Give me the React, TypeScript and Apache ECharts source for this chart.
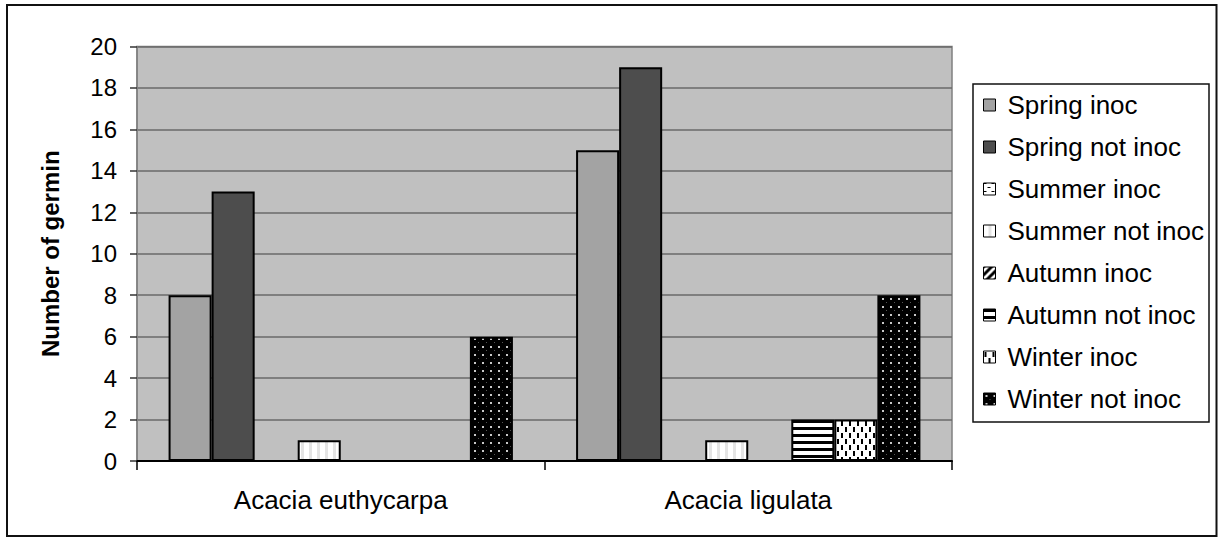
import React, { useEffect, useRef } from "react";
import * as echarts from "echarts";

// Germination counts per species and treatment
const categories = ["Acacia euthycarpa", "Acacia ligulata"];
const seriesNames = [
  "Spring inoc",
  "Spring not inoc",
  "Summer inoc",
  "Summer not inoc",
  "Autumn inoc",
  "Autumn not inoc",
  "Winter inoc",
  "Winter not inoc",
];
const springInoc = [8, 15];
const springNotInoc = [13, 19];
const summerInoc = [0, 0];
const summerNotInoc = [1, 1];
const autumnInoc = [0, 0];
const autumnNotInoc = [0, 2];
const winterInoc = [0, 2];
const winterNotInoc = [6, 8];
const yTicks = { min: 0, max: 20, interval: 2 };
const yTitle = "Number of germin";

const FONT = "'Liberation Sans', Arial, sans-serif";

// Small repeating canvas tiles used as bar fills
function tile(w: number, h: number, draw: (c: CanvasRenderingContext2D) => void) {
  const cv = document.createElement("canvas");
  cv.width = w;
  cv.height = h;
  const ctx = cv.getContext("2d")!;
  draw(ctx);
  return { image: cv, repeat: "repeat" as const };
}

function makeFills() {
  const summerInocFill = tile(8, 8, (c) => {
    c.fillStyle = "#fff";
    c.fillRect(0, 0, 8, 8);
    c.fillStyle = "#000";
    c.fillRect(0, 0, 3, 1);
    c.fillRect(4, 4, 3, 1);
  });
  const summerNotInocFill = tile(8, 8, (c) => {
    c.fillStyle = "#fff";
    c.fillRect(0, 0, 8, 8);
    c.fillStyle = "#e4e4e4";
    c.fillRect(5, 0, 3, 8);
  });
  const autumnInocFill = tile(8, 8, (c) => {
    c.fillStyle = "#fff";
    c.fillRect(0, 0, 8, 8);
    c.strokeStyle = "#000";
    c.lineWidth = 3;
    c.beginPath();
    c.moveTo(-2, 10);
    c.lineTo(10, -2);
    c.moveTo(-6, 6);
    c.lineTo(6, -6);
    c.moveTo(2, 14);
    c.lineTo(14, 2);
    c.stroke();
  });
  const autumnNotInocFill = tile(8, 7, (c) => {
    c.fillStyle = "#fff";
    c.fillRect(0, 0, 8, 7);
    c.fillStyle = "#000";
    c.fillRect(0, 0, 8, 3);
  });
  const winterInocFill = tile(8, 12, (c) => {
    c.fillStyle = "#fff";
    c.fillRect(0, 0, 8, 12);
    c.fillStyle = "#000";
    c.fillRect(1, 1, 2, 5);
    c.fillRect(5, 7, 2, 5);
  });
  const winterNotInocFill = tile(8, 8, (c) => {
    c.fillStyle = "#000";
    c.fillRect(0, 0, 8, 8);
    c.fillStyle = "#c8c8c8";
    c.fillRect(2, 2, 2, 2);
    c.fillStyle = "#555";
    c.fillRect(6, 6, 1, 1);
  });
  return [
    "#a3a3a3",
    "#4d4d4d",
    summerInocFill,
    summerNotInocFill,
    autumnInocFill,
    autumnNotInocFill,
    winterInocFill,
    winterNotInocFill,
  ];
}

export default function App() {
  const ref = useRef<HTMLDivElement>(null);

  useEffect(() => {
    if (!ref.current) return;
    const chart = echarts.init(ref.current, undefined, { renderer: "svg" });
    const fills = makeFills();
    const values = [
      springInoc,
      springNotInoc,
      summerInoc,
      summerNotInoc,
      autumnInoc,
      autumnNotInoc,
      winterInoc,
      winterNotInoc,
    ];

    chart.setOption({
      animation: false,
      backgroundColor: "#fff",
      textStyle: { fontFamily: FONT },
      grid: {
        left: 137,
        top: 46.5,
        right: 269,
        bottom: 78,
        show: true,
        backgroundColor: "#c0c0c0",
        borderColor: "#808080",
        borderWidth: 1.5,
      },
      graphic: [
        {
          type: "rect",
          shape: { x: 7, y: 5, width: 1209.5, height: 531 },
          style: { fill: "none", stroke: "#111", lineWidth: 2 },
          silent: true,
        },
        {
          type: "rect",
          shape: { x: 973, y: 84, width: 236, height: 338 },
          style: { fill: "#fff", stroke: "#111", lineWidth: 1.5 },
          silent: true,
          z: -1,
        },
      ],
      legend: {
        orient: "vertical",
        left: 983,
        top: 92,
        icon: "rect",
        itemWidth: 12,
        itemHeight: 12,
        itemGap: 16,
        padding: 0,
        itemStyle: { borderWidth: 1, borderColor: "#000" },
        textStyle: {
          fontFamily: FONT,
          fontSize: 26,
          lineHeight: 26,
          color: "#000",
          padding: [0, 0, 0, 7],
        },
        data: seriesNames,
      },
      xAxis: {
        type: "category",
        data: categories,
        axisLine: { lineStyle: { color: "#000", width: 2 } },
        axisTick: { show: true, length: 9, lineStyle: { color: "#000", width: 1.5 } },
        axisLabel: { fontFamily: FONT, fontSize: 26, color: "#000", margin: 26 },
      },
      yAxis: {
        type: "value",
        min: yTicks.min,
        max: yTicks.max,
        interval: yTicks.interval,
        name: yTitle,
        nameLocation: "middle",
        nameGap: 75,
        nameTextStyle: { fontFamily: FONT, fontSize: 24, fontWeight: "bold", color: "#000" },
        axisLine: { show: true, lineStyle: { color: "#808080", width: 1.5 } },
        axisTick: { show: true, length: 7, lineStyle: { color: "#333", width: 1.5 } },
        axisLabel: { fontFamily: FONT, fontSize: 24, color: "#000", margin: 20 },
        splitLine: { lineStyle: { color: "#6a6a6a", width: 1.5 } },
      },
      series: seriesNames.map((name, i) => ({
        name,
        type: "bar",
        data: values[i],
        barGap: "0%",
        barCategoryGap: "15.5%",
        itemStyle: { color: fills[i], borderColor: "#000", borderWidth: 2 },
      })),
    });

    return () => chart.dispose();
  }, []);

  return (
    <div
      ref={ref}
      style={{ position: "fixed", left: 0, top: 0, width: 1221, height: 539 }}
    />
  );
}
